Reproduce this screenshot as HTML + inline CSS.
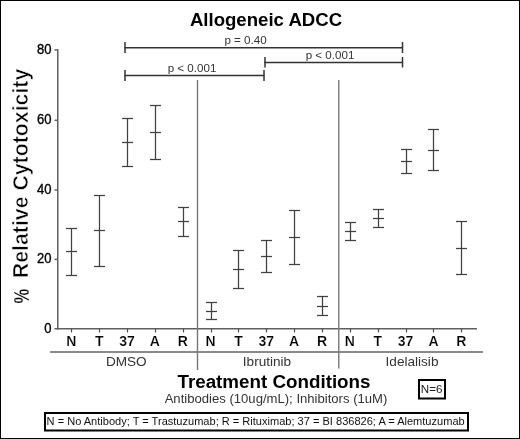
<!DOCTYPE html><html><head><meta charset="utf-8"><style>
html,body{margin:0;padding:0;background:#fff;}
svg{display:block;will-change:transform;}
text{font-family:"Liberation Sans",sans-serif;}
</style></head><body>
<svg width="520" height="439" viewBox="0 0 520 439">
<rect x="0" y="0" width="520" height="439" fill="#fff"/>
<rect x="0.5" y="0.5" width="519" height="438" fill="none" stroke="#000" stroke-width="1"/>
<text x="266" y="26" font-size="18.6" font-weight="bold" text-anchor="middle" fill="#000">Allogeneic ADCC</text>
<g stroke="#606060" stroke-width="1.5" fill="none">
<line x1="57.75" y1="49.2" x2="57.75" y2="329.5"/>
<line x1="57" y1="328.75" x2="477" y2="328.75"/>
<line x1="54.5" y1="328.75" x2="58" y2="328.75"/>
<line x1="54.5" y1="259.40" x2="58" y2="259.40"/>
<line x1="54.5" y1="190.00" x2="58" y2="190.00"/>
<line x1="54.5" y1="120.30" x2="58" y2="120.30"/>
<line x1="54.5" y1="49.90" x2="58" y2="49.90"/>
</g>
<g stroke="#505050" stroke-width="1.2" fill="none">
<line x1="71.5" y1="328.5" x2="71.5" y2="332.5"/>
<line x1="99.5" y1="328.5" x2="99.5" y2="332.5"/>
<line x1="127.5" y1="328.5" x2="127.5" y2="332.5"/>
<line x1="155.5" y1="328.5" x2="155.5" y2="332.5"/>
<line x1="183.5" y1="328.5" x2="183.5" y2="332.5"/>
<line x1="211.5" y1="328.5" x2="211.5" y2="332.5"/>
<line x1="238.5" y1="328.5" x2="238.5" y2="332.5"/>
<line x1="266.5" y1="328.5" x2="266.5" y2="332.5"/>
<line x1="294.5" y1="328.5" x2="294.5" y2="332.5"/>
<line x1="322.5" y1="328.5" x2="322.5" y2="332.5"/>
<line x1="350.5" y1="328.5" x2="350.5" y2="332.5"/>
<line x1="378.5" y1="328.5" x2="378.5" y2="332.5"/>
<line x1="406.5" y1="328.5" x2="406.5" y2="332.5"/>
<line x1="433.5" y1="328.5" x2="433.5" y2="332.5"/>
<line x1="461.5" y1="328.5" x2="461.5" y2="332.5"/>
</g>
<line x1="50" y1="352" x2="483" y2="352" stroke="#8a8a8a" stroke-width="2"/>
<line x1="197.5" y1="80" x2="197.5" y2="370" stroke="#777" stroke-width="1.4"/>
<line x1="338.75" y1="80" x2="338.75" y2="368.5" stroke="#808080" stroke-width="1.5"/>
<text transform="translate(51.4,332.75) scale(0.92,1)" font-size="14.2" fill="#000" stroke="#000" stroke-width="0.35" text-anchor="end">0</text>
<text transform="translate(51.4,263.40) scale(0.92,1)" font-size="14.2" fill="#000" stroke="#000" stroke-width="0.35" text-anchor="end">20</text>
<text transform="translate(51.4,194.00) scale(0.92,1)" font-size="14.2" fill="#000" stroke="#000" stroke-width="0.35" text-anchor="end">40</text>
<text transform="translate(51.4,124.30) scale(0.92,1)" font-size="14.2" fill="#000" stroke="#000" stroke-width="0.35" text-anchor="end">60</text>
<text transform="translate(51.4,53.90) scale(0.92,1)" font-size="14.2" fill="#000" stroke="#000" stroke-width="0.35" text-anchor="end">80</text>
<text transform="translate(28.6,303.6) rotate(-90) scale(0.73,1)" font-size="22.5" font-weight="bold" fill="#000" stroke="#fff" stroke-width="0.3">%</text>
<text transform="translate(28.3,278.2) rotate(-90)" font-size="21.3" font-weight="bold" fill="#000" stroke="#fff" stroke-width="0.6">Relative Cytotoxicity</text>
<g stroke="#404040" stroke-width="1.25" fill="none">
<line x1="71.5" y1="228.5" x2="71.5" y2="275.5"/>
<line x1="66.0" y1="228.5" x2="77.0" y2="228.5"/>
<line x1="66.0" y1="251.5" x2="77.0" y2="251.5"/>
<line x1="66.0" y1="275.5" x2="77.0" y2="275.5"/>
<line x1="99.5" y1="195.5" x2="99.5" y2="266.5"/>
<line x1="94.0" y1="195.5" x2="105.0" y2="195.5"/>
<line x1="94.0" y1="230.5" x2="105.0" y2="230.5"/>
<line x1="94.0" y1="266.5" x2="105.0" y2="266.5"/>
<line x1="127.5" y1="118.5" x2="127.5" y2="166.5"/>
<line x1="122.0" y1="118.5" x2="133.0" y2="118.5"/>
<line x1="122.0" y1="142.5" x2="133.0" y2="142.5"/>
<line x1="122.0" y1="166.5" x2="133.0" y2="166.5"/>
<line x1="155.5" y1="105.5" x2="155.5" y2="159.5"/>
<line x1="150.0" y1="105.5" x2="161.0" y2="105.5"/>
<line x1="150.0" y1="132.5" x2="161.0" y2="132.5"/>
<line x1="150.0" y1="159.5" x2="161.0" y2="159.5"/>
<line x1="183.5" y1="207.5" x2="183.5" y2="236.5"/>
<line x1="178.0" y1="207.5" x2="189.0" y2="207.5"/>
<line x1="178.0" y1="221.5" x2="189.0" y2="221.5"/>
<line x1="178.0" y1="236.5" x2="189.0" y2="236.5"/>
<line x1="211.5" y1="302.5" x2="211.5" y2="319.5"/>
<line x1="206.0" y1="302.5" x2="217.0" y2="302.5"/>
<line x1="206.0" y1="311.5" x2="217.0" y2="311.5"/>
<line x1="206.0" y1="319.5" x2="217.0" y2="319.5"/>
<line x1="238.5" y1="250.5" x2="238.5" y2="288.5"/>
<line x1="233.0" y1="250.5" x2="244.0" y2="250.5"/>
<line x1="233.0" y1="269.5" x2="244.0" y2="269.5"/>
<line x1="233.0" y1="288.5" x2="244.0" y2="288.5"/>
<line x1="266.5" y1="240.5" x2="266.5" y2="272.5"/>
<line x1="261.0" y1="240.5" x2="272.0" y2="240.5"/>
<line x1="261.0" y1="256.5" x2="272.0" y2="256.5"/>
<line x1="261.0" y1="272.5" x2="272.0" y2="272.5"/>
<line x1="294.5" y1="210.5" x2="294.5" y2="264.5"/>
<line x1="289.0" y1="210.5" x2="300.0" y2="210.5"/>
<line x1="289.0" y1="237.5" x2="300.0" y2="237.5"/>
<line x1="289.0" y1="264.5" x2="300.0" y2="264.5"/>
<line x1="322.5" y1="296.5" x2="322.5" y2="315.5"/>
<line x1="317.0" y1="296.5" x2="328.0" y2="296.5"/>
<line x1="317.0" y1="306.5" x2="328.0" y2="306.5"/>
<line x1="317.0" y1="315.5" x2="328.0" y2="315.5"/>
<line x1="350.5" y1="222.5" x2="350.5" y2="240.5"/>
<line x1="345.0" y1="222.5" x2="356.0" y2="222.5"/>
<line x1="345.0" y1="231.5" x2="356.0" y2="231.5"/>
<line x1="345.0" y1="240.5" x2="356.0" y2="240.5"/>
<line x1="378.5" y1="209.5" x2="378.5" y2="227.5"/>
<line x1="373.0" y1="209.5" x2="384.0" y2="209.5"/>
<line x1="373.0" y1="218.5" x2="384.0" y2="218.5"/>
<line x1="373.0" y1="227.5" x2="384.0" y2="227.5"/>
<line x1="406.5" y1="149.5" x2="406.5" y2="173.5"/>
<line x1="401.0" y1="149.5" x2="412.0" y2="149.5"/>
<line x1="401.0" y1="161.5" x2="412.0" y2="161.5"/>
<line x1="401.0" y1="173.5" x2="412.0" y2="173.5"/>
<line x1="433.5" y1="129.5" x2="433.5" y2="170.5"/>
<line x1="428.0" y1="129.5" x2="439.0" y2="129.5"/>
<line x1="428.0" y1="150.5" x2="439.0" y2="150.5"/>
<line x1="428.0" y1="170.5" x2="439.0" y2="170.5"/>
<line x1="461.5" y1="221.5" x2="461.5" y2="274.5"/>
<line x1="456.0" y1="221.5" x2="467.0" y2="221.5"/>
<line x1="456.0" y1="248.5" x2="467.0" y2="248.5"/>
<line x1="456.0" y1="274.5" x2="467.0" y2="274.5"/>
</g>
<g font-size="14" font-weight="bold" fill="#000" stroke="#fff" stroke-width="0.2" text-anchor="middle">
<text x="71.30" y="346">N</text>
<text x="99.16" y="346">T</text>
<text x="127.02" y="346">37</text>
<text x="154.88" y="346">A</text>
<text x="182.74" y="346">R</text>
<text x="210.60" y="346">N</text>
<text x="238.46" y="346">T</text>
<text x="266.32" y="346">37</text>
<text x="294.18" y="346">A</text>
<text x="322.04" y="346">R</text>
<text x="349.90" y="346">N</text>
<text x="377.76" y="346">T</text>
<text x="405.62" y="346">37</text>
<text x="433.48" y="346">A</text>
<text x="461.34" y="346">R</text>
</g>
<g font-size="13.6" fill="#333" text-anchor="middle">
<text x="126.3" y="366">DMSO</text>
<text x="267" y="366">Ibrutinib</text>
<text x="412" y="366">Idelalisib</text>
</g>
<g stroke="#333" stroke-width="1.5" fill="none">
<line x1="124.5" y1="47.75" x2="403" y2="47.75"/>
<line x1="125" y1="42" x2="125" y2="53"/><line x1="402.5" y1="42" x2="402.5" y2="53"/>
<line x1="264.5" y1="62.5" x2="403" y2="62.5"/>
<line x1="265" y1="57" x2="265" y2="67.5"/><line x1="402.5" y1="57" x2="402.5" y2="67.5"/>
<line x1="124.5" y1="75.5" x2="264.5" y2="75.5"/>
<line x1="125" y1="70" x2="125" y2="81"/><line x1="264" y1="70" x2="264" y2="81"/>
</g>
<g font-size="11.6" fill="#333" text-anchor="middle">
<text x="245.5" y="43.8">p = 0.40</text>
<text x="330" y="59.1">p &lt; 0.001</text>
<text x="192" y="71.6">p &lt; 0.001</text>
</g>
<text x="274" y="388" font-size="18.8" font-weight="bold" text-anchor="middle" fill="#000">Treatment Conditions</text>
<text x="276" y="402.7" font-size="13.1" text-anchor="middle" fill="#333">Antibodies (10ug/mL); Inhibitors (1uM)</text>
<rect x="419" y="380" width="26" height="18.5" fill="none" stroke="#000" stroke-width="2"/>
<text x="431.6" y="392.7" font-size="11.6" text-anchor="middle" fill="#222">N=6</text>
<rect x="45" y="413" width="423" height="17.5" fill="none" stroke="#000" stroke-width="2"/>
<text x="46.6" y="425.2" font-size="11.05" fill="#111">N = No Antibody; T = Trastuzumab; R = Rituximab; 37 = BI 836826; A = Alemtuzumab</text>
</svg></body></html>
